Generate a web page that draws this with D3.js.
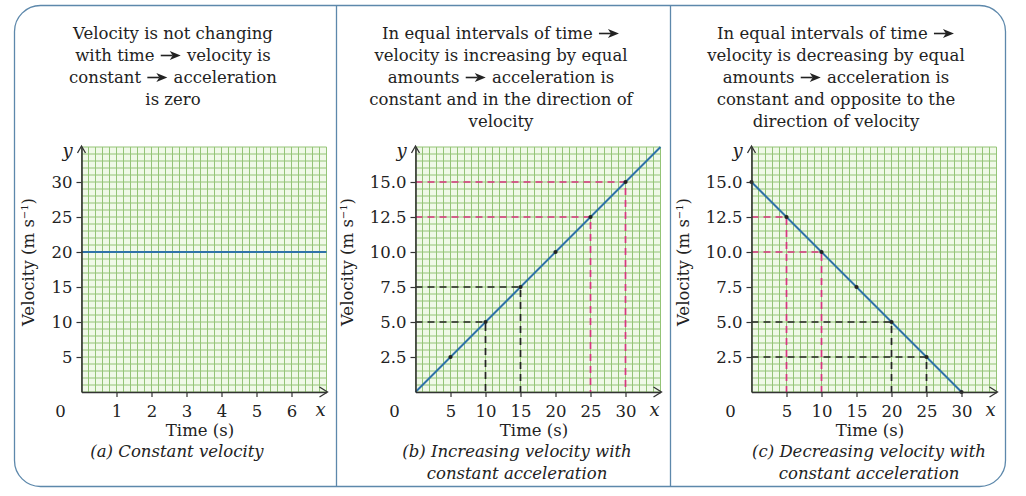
<!DOCTYPE html>
<html>
<head>
<meta charset="utf-8">
<script src="https://cdn.jsdelivr.net/npm/d3@7"></script>
<style>
  body { margin: 0; background: #fff; }
  svg text { font-family: "DejaVu Serif", "Liberation Serif", serif; fill: #222; }
</style>
</head>
<body>
<svg id="chart" width="1026" height="496"></svg>
<script>
// ---- data ----
const titleA = ['Velocity is not changing', 'with time \u279E velocity is', 'constant \u279E acceleration', 'is zero'];
const titleB = ['In equal intervals of time \u279E', 'velocity is increasing by equal', 'amounts \u279E acceleration is', 'constant and in the direction of', 'velocity'];
const titleC = ['In equal intervals of time \u279E', 'velocity is decreasing by equal', 'amounts \u279E acceleration is', 'constant and opposite to the', 'direction of velocity'];
const captionA = ['(a) Constant velocity'];
const captionB = ['(b) Increasing velocity with', 'constant acceleration'];
const captionC = ['(c) Decreasing velocity with', 'constant acceleration'];

const xTicksA = [1, 2, 3, 4, 5, 6];
const yTicksA = [5, 10, 15, 20, 25, 30];
const xTicksBC = [5, 10, 15, 20, 25, 30];
const yTicksBC = [2.5, 5, 7.5, 10, 12.5, 15];

// (a) constant velocity
const timeA = [0, 7];
const velA = [20, 20];
// (b) increasing velocity
const timeB = [0, 5, 10, 15, 20, 25, 30, 35];
const velB = [0, 2.5, 5, 7.5, 10, 12.5, 15, 17.5];
const dotTimesB = [5, 10, 15, 20, 25, 30];
const blackGuidesB = [10, 15];
const pinkGuidesB = [25, 30];
// (c) decreasing velocity
const timeC = [0, 5, 10, 15, 20, 25, 30];
const velC = [15, 12.5, 10, 7.5, 5, 2.5, 0];
const dotTimesC = [0, 5, 10, 15, 20, 25, 30];
const blackGuidesC = [20, 25];
const pinkGuidesC = [5, 10];

const svg = d3.select('#chart');

// ---- frame ----
const fx0 = 14.5, fy0 = 5.5, fx1 = 1005.5, fy1 = 486.5, r = 26;
svg.append('path')
  .attr('d', `M${fx0 + r},${fy0} H${fx1 - r} A${r},${r} 0 0 1 ${fx1},${fy0 + r} V${fy1 - r} A${r},${r} 0 0 1 ${fx1 - r},${fy1} H${fx0 + r} A${r},${r} 0 0 1 ${fx0},${fy1 - r} V${fy0 + r} A${r},${r} 0 0 1 ${fx0 + r},${fy0} Z`)
  .attr('fill', 'none').attr('stroke', '#5d88ab').attr('stroke-width', 1.3);
[336.5, 670.5].forEach(x => {
  svg.append('line').attr('x1', x).attr('x2', x).attr('y1', fy0).attr('y2', fy1)
    .attr('stroke', '#5d88ab').attr('stroke-width', 1.3);
});

//  Writes centred lines. The arrow glyph is kept as a blank gap in the text,
//  then a drawn arrow (thin shaft, filled head) is put into that gap
function textBlock(lines, cx, y0, step, size, italic) {
  const t = svg.append('text').attr('text-anchor', 'middle')
    .attr('font-size', size).attr('font-style', italic ? 'italic' : 'normal');
  const gaps = [];
  lines.forEach((l, i) => {
    const by = y0 + i * step;
    const row = t.append('tspan').attr('x', cx).attr('y', by);
    l.split('\u279E').forEach((part, j) => {
      if (j > 0) {
        const gap = row.append('tspan').attr('font-size', 22).text('\u2003');
        gaps.push({ node: gap.node(), by });
      }
      row.append('tspan').text(part);
    });
  });
  gaps.forEach(({ node, by }) => {
    const box = node.getExtentOfChar(0);
    const x0 = box.x + 1, x1 = box.x + box.width - 1, my = by - 5.5;
    svg.append('line').attr('x1', x0).attr('x2', x1 - 8).attr('y1', my).attr('y2', my)
      .attr('stroke', '#222').attr('stroke-width', 1.6);
    svg.append('path').attr('d', `M${x1 - 11},${my - 4.5} L${x1},${my} L${x1 - 11},${my + 4.5} L${x1 - 8},${my} Z`)
      .attr('fill', '#222');
  });
}

function drawPanel(p) {
  const bottom = 392, top = 147, size = 245;
  const x = d3.scaleLinear().domain([0, p.xMax]).range([p.ox, p.ox + size]);
  const y = d3.scaleLinear().domain([0, p.yMax]).range([bottom, top]);
  const g = svg.append('g');

  // grid
  g.append('rect').attr('x', p.ox).attr('y', top).attr('width', size).attr('height', size)
    .attr('fill', '#f0f9e8');
  const gx = d3.range(0, p.xMax + 1e-9, p.xGrid), gy = d3.range(0, p.yMax + 1e-9, p.yGrid);
  g.selectAll('.gx').data(gx).join('line')
    .attr('x1', d => x(d)).attr('x2', d => x(d)).attr('y1', top).attr('y2', bottom)
    .attr('stroke', '#94c477').attr('stroke-width', 1);
  g.selectAll('.gy').data(gy).join('line')
    .attr('x1', p.ox).attr('x2', p.ox + size).attr('y1', d => y(d)).attr('y2', d => y(d))
    .attr('stroke', '#94c477').attr('stroke-width', 1);

  // guides
  const vAt = t => p.vel[p.time.indexOf(t)];
  const guide = (t, color) => {
    const path = `M${p.ox},${y(vAt(t))} H${x(t)} V${bottom}`;
    g.append('path').attr('d', path).attr('fill', 'none')
      .attr('stroke', color).attr('stroke-width', 1.7).attr('stroke-dasharray', '7,5');
  };
  (p.black || []).forEach(t => guide(t, '#222'));
  (p.pink || []).forEach(t => guide(t, '#d8347f'));

  // line
  g.append('path').datum(p.time.map((t, i) => [t, p.vel[i]]))
    .attr('d', d3.line().x(d => x(d[0])).y(d => y(d[1])))
    .attr('fill', 'none').attr('stroke', '#2f72a8').attr('stroke-width', 2);
  g.selectAll('.dot').data(p.dots || []).join('circle')
    .attr('cx', d => x(d)).attr('cy', d => y(vAt(d))).attr('r', 2.1).attr('fill', '#222');

  // axes
  const ya = g.append('g').attr('transform', `translate(${p.ox},0)`)
    .call(d3.axisLeft(y).tickValues(p.yTicks).tickFormat(p.yFmt).tickSize(5).tickSizeOuter(0).tickPadding(4));
  const xa = g.append('g').attr('transform', `translate(0,${bottom})`)
    .call(d3.axisBottom(x).tickValues(p.xTicks).tickFormat(d3.format('d')).tickSize(5).tickSizeOuter(0).tickPadding(8));
  [ya, xa].forEach(a => {
    a.select('.domain').attr('stroke', '#333').attr('stroke-width', 1.6);
    a.selectAll('.tick line').attr('stroke', '#333').attr('stroke-width', 1.2);
    a.selectAll('text').attr('font-size', 16.5).attr('font-family', null).attr('fill', '#222');
  });
  // arrow heads
  g.append('path').attr('d', `M${p.ox - 4},${top + 6} L${p.ox},${top - 1} L${p.ox + 4},${top + 6}`)
    .attr('fill', 'none').attr('stroke', '#333').attr('stroke-width', 1.3);
  g.append('path').attr('d', `M${p.ox + size - 7},${bottom - 5} L${p.ox + size + 1},${bottom} L${p.ox + size - 7},${bottom + 5}`)
    .attr('fill', 'none').attr('stroke', '#333').attr('stroke-width', 1.3);

  g.append('text').attr('x', p.ox - 21).attr('y', 417).attr('text-anchor', 'middle').attr('font-size', 16.5).text('0');
  g.append('text').attr('x', p.ox + size - 6).attr('y', 416).attr('text-anchor', 'middle')
    .attr('font-size', 18).attr('font-style', 'italic').text('x');
  g.append('text').attr('x', p.ox - 14).attr('y', 157).attr('text-anchor', 'middle')
    .attr('font-size', 18).attr('font-style', 'italic').text('y');

  g.append('text').attr('x', p.ox + size / 2 - 4).attr('y', 436).attr('text-anchor', 'middle')
    .attr('font-size', 16.5).text('Time (s)');
  const vl = g.append('text').attr('text-anchor', 'middle').attr('font-size', 16.5)
    .attr('transform', `translate(${p.ox + p.vlOff},262) rotate(-90)`);
  vl.append('tspan').text('Velocity (m s');
  vl.append('tspan').attr('font-size', 10).attr('dy', -6).text('\u22121');
  vl.append('tspan').attr('dy', 6).text(')');

  textBlock(p.title, p.titleX, 39, 22, 16.5, false);
  textBlock(p.caption, p.captionX, 457, 22, 16.5, true);
}

drawPanel({ ox: 81.5, xMax: 7, yMax: 35, xGrid: 0.2, yGrid: 1, xTicks: xTicksA, yTicks: yTicksA,
  yFmt: d3.format('d'), time: timeA, vel: velA, vlOff: -48, title: titleA, titleX: 173,
  caption: captionA, captionX: 177 });
drawPanel({ ox: 415.5, xMax: 35, yMax: 17.5, xGrid: 1, yGrid: 0.5, xTicks: xTicksBC, yTicks: yTicksBC,
  yFmt: d3.format('.1f'), time: timeB, vel: velB, dots: dotTimesB, black: blackGuidesB, pink: pinkGuidesB,
  vlOff: -63, title: titleB, titleX: 501, caption: captionB, captionX: 517 });
drawPanel({ ox: 751.5, xMax: 35, yMax: 17.5, xGrid: 1, yGrid: 0.5, xTicks: xTicksBC, yTicks: yTicksBC,
  yFmt: d3.format('.1f'), time: timeC, vel: velC, dots: dotTimesC, black: blackGuidesC, pink: pinkGuidesC,
  vlOff: -63, title: titleC, titleX: 836, caption: captionC, captionX: 869 });
</script>
</body>
</html>
